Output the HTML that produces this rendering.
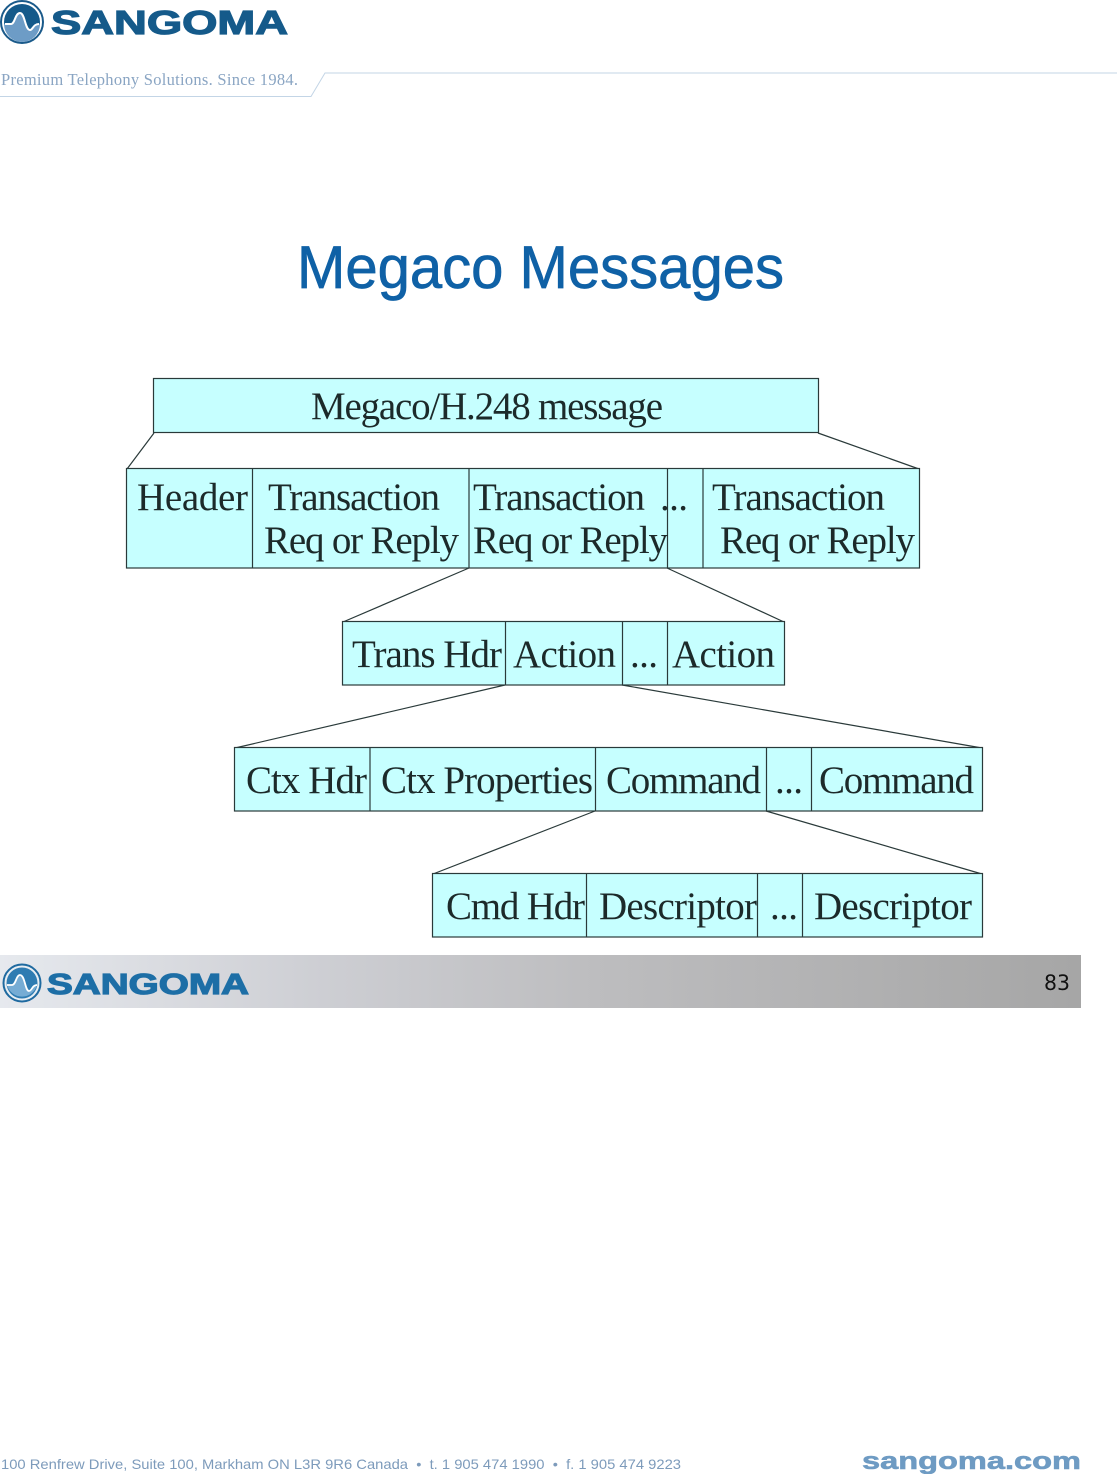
<!DOCTYPE html>
<html><head><meta charset="utf-8"><title>Megaco Messages</title>
<style>
html,body{margin:0;padding:0;background:#fff;width:1117px;height:1474px;overflow:hidden}
svg{display:block}
.d{font-family:"Liberation Serif",serif;font-size:39px;fill:#1c2a2a}
.b{fill:#c6ffff;stroke:#2a3a3a;stroke-width:1.2}
.l{stroke:#2a3a3a;stroke-width:1.2;fill:none}
</style></head><body>
<svg width="1117" height="1474" viewBox="0 0 1117 1474" xmlns="http://www.w3.org/2000/svg">
<defs>
<linearGradient id="g" x1="0" x2="1" y1="0" y2="0"><stop offset="0" stop-color="#e6e9ee"/><stop offset=".3" stop-color="#cdced3"/><stop offset=".55" stop-color="#bdbdbf"/><stop offset="1" stop-color="#a6a6a6"/></linearGradient>
</defs>

<!-- top logo -->
<circle cx="22" cy="22" r="21" fill="#fff" stroke="#1a5a8a" stroke-width="2"/>
<circle cx="22" cy="22" r="18" fill="#155a8a"/>
<path d="M4 24 H11 C15 24 15 13 20 13 C25 13 25 30 30 30 C33 30 33 24 40 24 A18 18 0 0 1 4 24Z" fill="#6d9cc6"/>
<path d="M5 24 H11 C15 24 15 13 20 13 C25 13 25 30 30 30 C33 30 33 24 39 24" fill="none" stroke="#fff" stroke-width="2"/>
<text x="51" y="34" font-family="Liberation Sans,sans-serif" font-weight="700" font-size="33" fill="#155a8a" stroke="#155a8a" stroke-width="1.2" textLength="237" lengthAdjust="spacingAndGlyphs">SANGOMA</text>
<text x="1" y="85" font-family="Liberation Serif,serif" font-size="16.5" fill="#8aa5c3" textLength="297" lengthAdjust="spacing">Premium Telephony Solutions. Since 1984.</text>
<path d="M0 96.500 H311 L325 73 H1117" fill="none" stroke="#c3d5e6" stroke-width="1"/>

<!-- title -->
<text x="297" y="288" font-family="Liberation Sans,sans-serif" font-size="60" fill="#0f61a6" stroke="#0f61a6" stroke-width=".7" textLength="487" lengthAdjust="spacingAndGlyphs">Megaco Messages</text>

<!-- connectors -->
<path class="l" d="M154 433 L127 469 M818 433 L919 469 M469 568 L343 622 M667 568 L784 622 M505 685 L235 748 M622 685 L982 748 M595 811 L433 874 M766 811 L982 874"/>

<!-- level 1 -->
<rect class="b" x="153.500" y="378.500" width="665" height="54"/>
<text class="d" x="311" y="419" textLength="352" lengthAdjust="spacing">Megaco/H.248 message</text>

<!-- level 2 -->
<rect class="b" x="126.500" y="468.500" width="793" height="99.500"/>
<path class="l" d="M252.500 469V568 M469 469V568 M667.500 469V568 M703 469V568"/>
<text class="d" x="137" y="510" textLength="111" lengthAdjust="spacing">Header</text>
<text class="d" x="268" y="510" textLength="172" lengthAdjust="spacing">Transaction</text>
<text class="d" x="264" y="553" textLength="195" lengthAdjust="spacing">Req or Reply</text>
<text class="d" x="473" y="510" textLength="172" lengthAdjust="spacing">Transaction</text>
<text class="d" x="473" y="553" textLength="195" lengthAdjust="spacing">Req or Reply</text>
<text class="d" x="660" y="510" textLength="28" lengthAdjust="spacing">...</text>
<text class="d" x="712" y="510" textLength="173" lengthAdjust="spacing">Transaction</text>
<text class="d" x="720" y="553" textLength="195" lengthAdjust="spacing">Req or Reply</text>

<!-- level 3 -->
<rect class="b" x="342.500" y="621.500" width="442" height="63.500"/>
<path class="l" d="M505.500 622V685 M622.500 622V685 M667.500 622V685"/>
<text class="d" x="352" y="667" textLength="150" lengthAdjust="spacing">Trans Hdr</text>
<text class="d" x="513" y="667" textLength="103" lengthAdjust="spacing">Action</text>
<text class="d" x="630" y="667" textLength="28" lengthAdjust="spacing">...</text>
<text class="d" x="672" y="667" textLength="103" lengthAdjust="spacing">Action</text>

<!-- level 4 -->
<rect class="b" x="234.500" y="747.500" width="748" height="63.500"/>
<path class="l" d="M370 748V811 M595.500 748V811 M766.500 748V811 M811.500 748V811"/>
<text class="d" x="246" y="793" textLength="121" lengthAdjust="spacing">Ctx Hdr</text>
<text class="d" x="381" y="793" textLength="212" lengthAdjust="spacing">Ctx Properties</text>
<text class="d" x="606" y="793" textLength="155" lengthAdjust="spacing">Command</text>
<text class="d" x="775" y="793" textLength="28" lengthAdjust="spacing">...</text>
<text class="d" x="819" y="793" textLength="155" lengthAdjust="spacing">Command</text>

<!-- level 5 -->
<rect class="b" x="432.500" y="873.500" width="550" height="63.500"/>
<path class="l" d="M586.500 874V937 M757.500 874V937 M802.500 874V937"/>
<text class="d" x="446" y="919" textLength="139" lengthAdjust="spacing">Cmd Hdr</text>
<text class="d" x="599" y="919" textLength="158" lengthAdjust="spacing">Descriptor</text>
<text class="d" x="770" y="919" textLength="28" lengthAdjust="spacing">...</text>
<text class="d" x="814" y="919" textLength="158" lengthAdjust="spacing">Descriptor</text>

<!-- footer band -->
<rect x="0" y="955" width="1081" height="53" fill="url(#g)"/>
<circle cx="22" cy="983" r="18.500" fill="#e8eef3" stroke="#1f6aa0" stroke-width="2"/>
<circle cx="22" cy="983" r="15.500" fill="#2f7cb2"/>
<path d="M7 985 H12 C16 985 16 975 20 975 C25 975 25 991 29 991 C32 991 32 985 37 985 A15.500 15.500 0 0 1 7 985Z" fill="#76acd4"/>
<path d="M7 985 H12 C16 985 16 975 20 975 C25 975 25 991 29 991 C32 991 32 985 37 985" fill="none" stroke="#fff" stroke-width="1.800"/>
<text x="47" y="994" font-family="Liberation Sans,sans-serif" font-weight="700" font-size="29" fill="#1d6ea6" stroke="#1d6ea6" stroke-width="1.200" textLength="202" lengthAdjust="spacingAndGlyphs">SANGOMA</text>
<text x="1044" y="990" font-family="DejaVu Sans,sans-serif" font-size="21" fill="#111" textLength="26" lengthAdjust="spacingAndGlyphs">83</text>

<!-- bottom -->
<text x="1" y="1469" font-family="Liberation Sans,sans-serif" font-size="14" fill="#7d9bbb" textLength="680" lengthAdjust="spacingAndGlyphs">100 Renfrew Drive, Suite 100, Markham ON L3R 9R6 Canada &#160;•&#160; t. 1 905 474 1990 &#160;•&#160; f. 1 905 474 9223</text>
<text x="862" y="1469" font-family="Liberation Sans,sans-serif" font-weight="700" font-size="24" fill="#6e9bc3" stroke="#6e9bc3" stroke-width=".6" textLength="219" lengthAdjust="spacingAndGlyphs">sangoma.com</text>
</svg>
</body></html>
